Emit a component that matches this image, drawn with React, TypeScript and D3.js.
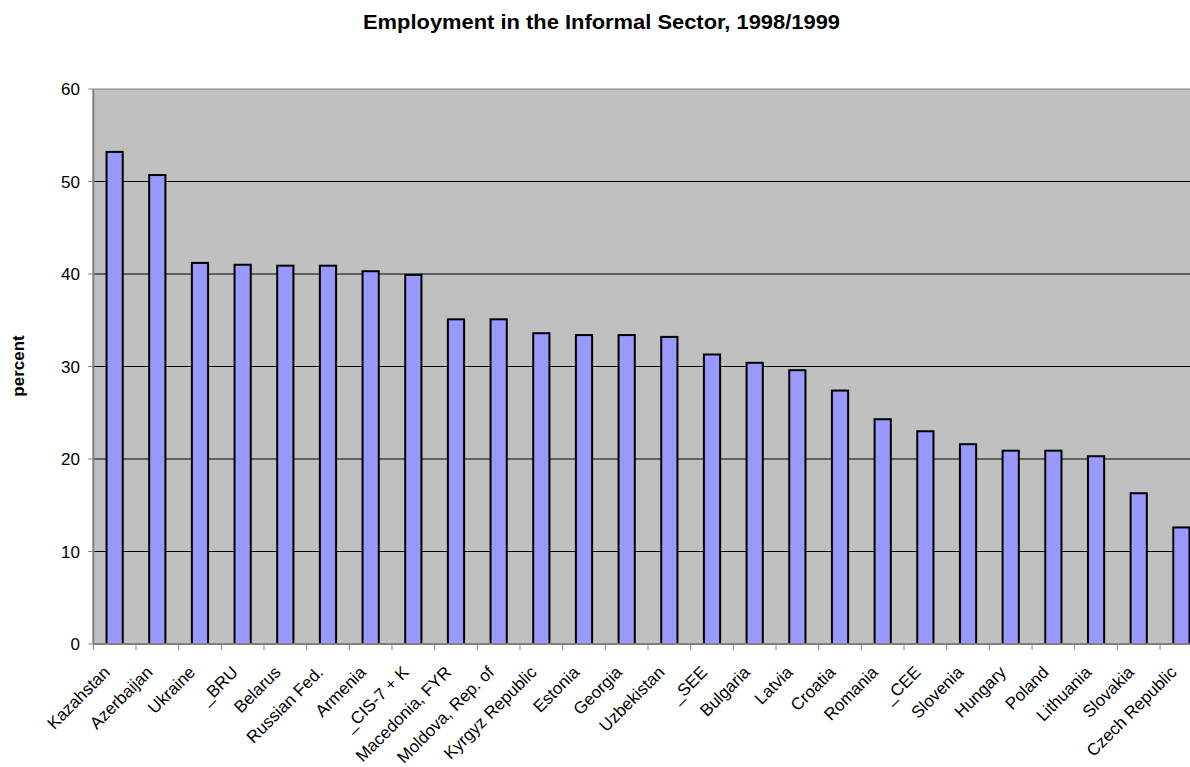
import React from "react";
import * as d3 from "d3";

const categories: string[] = [
  "Kazahstan", "Azerbaijan", "Ukraine", "_BRU", "Belarus", "Russian Fed.", "Armenia",
  "_CIS-7 + K", "Macedonia, FYR", "Moldova, Rep. of", "Kyrgyz Republic", "Estonia",
  "Georgia", "Uzbekistan", "_SEE", "Bulgaria", "Latvia", "Croatia", "Romania", "_CEE",
  "Slovenia", "Hungary", "Poland", "Lithuania", "Slovakia", "Czech Republic",
];

const values: number[] = [
  53.2, 50.7, 41.2, 41.0, 40.9, 40.9, 40.3,
  39.9, 35.1, 35.1, 33.6, 33.4,
  33.4, 33.2, 31.3, 30.4, 29.6, 27.4, 24.3, 23.0,
  21.6, 20.9, 20.9, 20.3, 16.3, 12.6,
];

const yTicks: number[] = [0, 10, 20, 30, 40, 50, 60];

const W = 1190;
const H = 767;
const left = 93.3;
const top = 89;
const bottom = 644;
const step = 42.67;
const right = left + step * categories.length;
const FONT = "Arial, 'Liberation Sans', Helvetica, sans-serif";

export default function App() {
  const x = d3
    .scaleBand<string>()
    .domain(categories)
    .range([left, right])
    .paddingInner(0.62)
    .paddingOuter(0.31);
  const y = d3.scaleLinear().domain([0, 60]).range([bottom, top]);
  const bandStep = x.step();

  return (
    <svg
      width={W}
      height={H}
      style={{ position: "absolute", left: 0, top: 0, display: "block", background: "#fff" }}
      fontFamily={FONT}
    >
      <text
        x={363}
        y={29}
        fontSize={20}
        fontWeight="bold"
        fill="#000"
        textLength={477}
        lengthAdjust="spacingAndGlyphs"
      >
        Employment in the Informal Sector, 1998/1999
      </text>

      <rect x={left} y={top} width={right - left} height={bottom - top} fill="#C0C0C0" />

      {yTicks
        .filter((t) => t > 0 && t < 60)
        .map((t) => (
          <line key={"g" + t} x1={left} x2={right} y1={y(t)} y2={y(t)} stroke="#000" strokeWidth={1} />
        ))}
      <line x1={left} x2={right} y1={top} y2={top} stroke="#808080" strokeWidth={1} />

      {categories.map((c, i) => {
        const bx = x(c)!;
        const by = y(values[i]);
        return (
          <rect
            key={c}
            x={bx}
            y={by}
            width={x.bandwidth()}
            height={bottom - by}
            fill="#9999FF"
            stroke="#000"
            strokeWidth={2}
          />
        );
      })}

      <line x1={left} x2={left} y1={top} y2={bottom} stroke="#808080" strokeWidth={2} />
      <line x1={left} x2={right} y1={bottom} y2={bottom} stroke="#808080" strokeWidth={2} />

      {yTicks.map((t) => (
        <g key={"yt" + t}>
          <line x1={left - 5} x2={left} y1={y(t)} y2={y(t)} stroke="#808080" strokeWidth={1} />
          <text x={80} y={y(t)} dy="0.36em" textAnchor="end" fontSize={17} fill="#000">
            {t}
          </text>
        </g>
      ))}

      {d3.range(categories.length + 1).map((i) => (
        <line
          key={"xt" + i}
          x1={left + i * bandStep}
          x2={left + i * bandStep}
          y1={bottom}
          y2={bottom + 6}
          stroke="#808080"
          strokeWidth={1}
        />
      ))}

      {categories.map((c) => {
        const cx = x(c)! + x.bandwidth() / 2;
        return (
          <text
            key={"l" + c}
            transform={`translate(${cx - 8},${bottom + 25}) rotate(-45)`}
            textAnchor="end"
            dy="0.36em"
            fontSize={17}
            fill="#000"
          >
            {c}
          </text>
        );
      })}

      <text
        transform={`translate(24,366) rotate(-90)`}
        textAnchor="middle"
        fontSize={17}
        fontWeight="bold"
        fill="#000"
      >
        percent
      </text>
    </svg>
  );
}
